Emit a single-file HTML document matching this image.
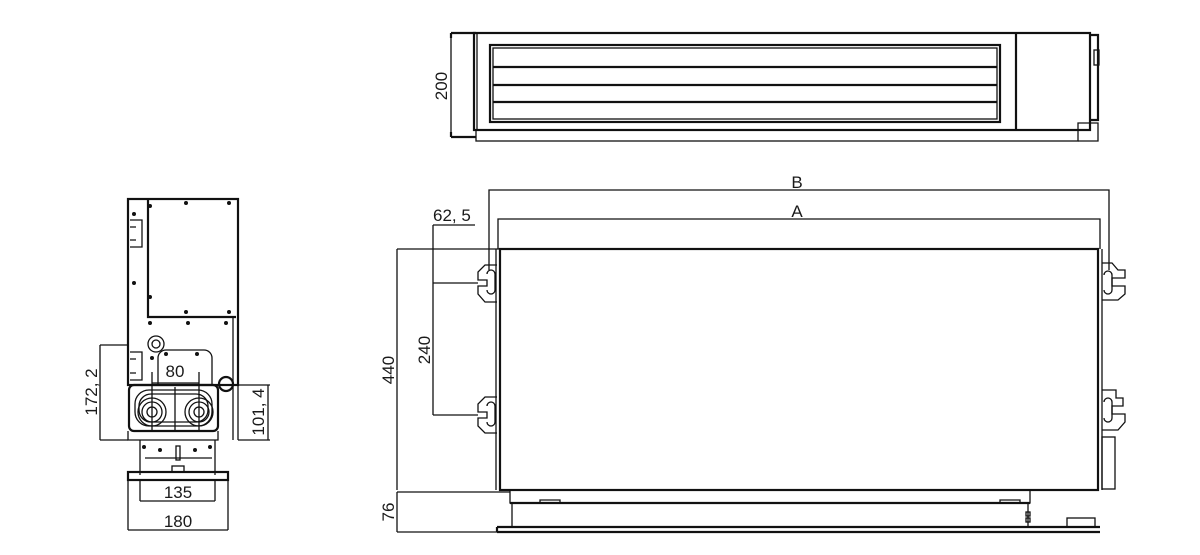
<!DOCTYPE html>
<html><head><meta charset="utf-8"><style>
html,body{margin:0;padding:0;background:#fff;}
svg{display:block;}
text{font-family:"Liberation Sans",sans-serif;font-size:17px;fill:#1a1a1a;}
.l{stroke:#111;fill:none;stroke-width:1.3}
.t{stroke:#111;fill:none;stroke-width:2.2}
</style></head><body>
<svg width="1200" height="555" viewBox="0 0 1200 555" xmlns="http://www.w3.org/2000/svg">
<!-- TOP VIEW -->
<path class="t" d="M451 33 H476 M451 137 H476 M451 33 V38 M451 132 V137"/>
<line class="l" x1="451" y1="38" x2="451" y2="132"/>
<text x="447" y="86" transform="rotate(-90 447 86)" text-anchor="middle">200</text>
<rect class="t" x="474" y="33" width="616" height="97"/>
<line class="l" x1="477" y1="33" x2="477" y2="130"/>
<rect class="t" x="490" y="45" width="510" height="77"/>
<rect class="l" x="493" y="48" width="504" height="71"/>
<line class="t" x1="493" y1="67" x2="997" y2="67"/>
<line class="t" x1="493" y1="85" x2="997" y2="85"/>
<line class="t" x1="493" y1="102" x2="997" y2="102"/>
<line class="t" x1="1016" y1="33" x2="1016" y2="130"/>
<rect class="l" x="476" y="130" width="602" height="11"/>
<path class="l" d="M1078 130 V123 H1098 V141 H1078"/>
<path class="t" d="M1090 35 H1098 V120 H1090"/>
<rect class="l" x="1094" y="50" width="5" height="15"/>
<!-- MAIN VIEW -->
<path class="l" d="M489 270 V190 H1109 V270"/>
<text x="797" y="188" text-anchor="middle">B</text>
<path class="l" d="M498 249 V219 H1100 V249"/>
<text x="797" y="217" text-anchor="middle">A</text>
<text x="433" y="221">62, 5</text>
<path class="l" d="M433 225 H475 M433 225 V415 M433 283 H478 M433 415 H478"/>
<text x="430" y="350" transform="rotate(-90 430 350)" text-anchor="middle">240</text>
<path class="l" d="M397 249 H500 M397 249 V490 M397 492 H510 M397 532 H500 M397 492 V532"/>
<text x="394" y="370" transform="rotate(-90 394 370)" text-anchor="middle">440</text>
<text x="394" y="512" transform="rotate(-90 394 512)" text-anchor="middle">76</text>
<rect class="t" x="500" y="249" width="598" height="241"/>
<line class="l" x1="496" y1="249" x2="496" y2="490"/>
<line class="l" x1="1102" y1="249" x2="1102" y2="490"/>
<g class="l">
<path d="M497 265 H485 L478 272 V280 H487 V286 H478 V294 L485 302 H497"/>
<path d="M487 274 a4 4 0 0 1 8 0 V290 a4 4 0 0 1 -8 0"/>
<path d="M497 397 H485 L478 404 V412 H487 V418 H478 V426 L485 433 H497"/>
<path d="M487 406 a4 4 0 0 1 8 0 V422 a4 4 0 0 1 -8 0"/>
<path d="M1102 263 H1112 L1118 270 H1125 V278 H1112 V286 H1125 V294 L1118 300 H1102"/>
<path d="M1104 275 a4 4 0 0 1 8 0 V290 a4 4 0 0 1 -8 0"/>
<path d="M1102 390 H1116 V398 L1123 398 V406 H1112 V414 H1125 V422 L1118 430 H1102"/>
<path d="M1104 402 a4 4 0 0 1 8 0 V418 a4 4 0 0 1 -8 0"/>
<rect x="1102" y="437" width="13" height="52"/>
</g>
<g class="l">
<path d="M510 490 V503 H540 V500 H560 V503 H1000 V500 H1020 V503 H1030 V490"/>
<line class="t" x1="510" y1="503" x2="1030" y2="503"/>
<line x1="512" y1="503" x2="512" y2="527"/>
<line x1="1028" y1="503" x2="1028" y2="527"/>
<rect x="1026" y="512" width="4" height="4"/><rect x="1026" y="518" width="4" height="4"/>
<path class="t" d="M497 527 H1100 M497 532 H1100 M497 527 V532"/>
<rect x="1067" y="518" width="28" height="9"/>
</g>
<!-- LEFT VIEW -->
<g class="l">
<rect class="t" x="128" y="199" width="110" height="186"/>
<path class="t" d="M148 199 V317 H236"/>
<line x1="233" y1="317" x2="233" y2="440"/>
<line x1="238" y1="385" x2="238" y2="440"/>
<path d="M130 220 H142 V247 H130 M130 227 H136 M130 240 H136"/>
<path d="M130 352 H142 V380 H130 M130 359 H136 M130 373 H136"/>
<circle cx="156" cy="344" r="8"/><circle cx="156" cy="344" r="4"/>
<circle cx="226" cy="384" r="7" class="t"/>
<path d="M158 385 V358 a8 8 0 0 1 8 -8 H204 a8 8 0 0 1 8 8 V385"/>
<rect class="t" x="129" y="385" width="89" height="46" rx="5"/>
<rect x="135" y="390" width="77" height="36" rx="14"/>
<rect x="139" y="394" width="69" height="28" rx="12"/>
<circle cx="152" cy="412" r="14"/><circle cx="152" cy="412" r="10"/><circle cx="152" cy="412" r="5"/>
<circle cx="199" cy="412" r="14"/><circle cx="199" cy="412" r="10"/><circle cx="199" cy="412" r="5"/>
<line x1="175" y1="387" x2="175" y2="430"/>
<path d="M152 372 V430 M199 372 V430 M152 383 H199"/>
<path d="M128 431 V440 H218 V431"/>
<path d="M140 440 V475 M215 440 V475 M145 458 H212"/>
<rect x="176" y="446" width="4" height="14"/>
<rect x="172" y="466" width="12" height="6"/>
<rect class="t" x="128" y="472" width="100" height="8"/>
<path d="M128 480 V530 M228 480 V530 M128 530 H228"/>
<path d="M140 480 V501 M215 480 V501 M140 501 H215"/>
<path d="M100 345 H128 M100 440 H128 M100 345 V440"/>
<path d="M238 385 H270 M238 440 H270 M268 385 V440"/>
</g>
<g fill="#111">
<circle cx="186" cy="203" r="2"/><circle cx="229" cy="203" r="2"/><circle cx="150" cy="206" r="2"/>
<circle cx="134" cy="214" r="2"/><circle cx="134" cy="283" r="2"/><circle cx="150" cy="297" r="2"/>
<circle cx="186" cy="312" r="2"/><circle cx="229" cy="312" r="2"/><circle cx="150" cy="323" r="2"/>
<circle cx="188" cy="323" r="2"/><circle cx="226" cy="323" r="2"/><circle cx="152" cy="358" r="2"/>
<circle cx="166" cy="354" r="2"/><circle cx="197" cy="354" r="2"/>
<circle cx="144" cy="447" r="2"/><circle cx="160" cy="450" r="2"/><circle cx="195" cy="450" r="2"/><circle cx="210" cy="447" r="2"/>
</g>
<text x="175" y="377" text-anchor="middle">80</text>
<text x="97" y="392" transform="rotate(-90 97 392)" text-anchor="middle">172, 2</text>
<text x="264" y="412" transform="rotate(-90 264 412)" text-anchor="middle">101, 4</text>
<text x="178" y="498" text-anchor="middle">135</text>
<text x="178" y="527" text-anchor="middle">180</text>
</svg>
</body></html>
